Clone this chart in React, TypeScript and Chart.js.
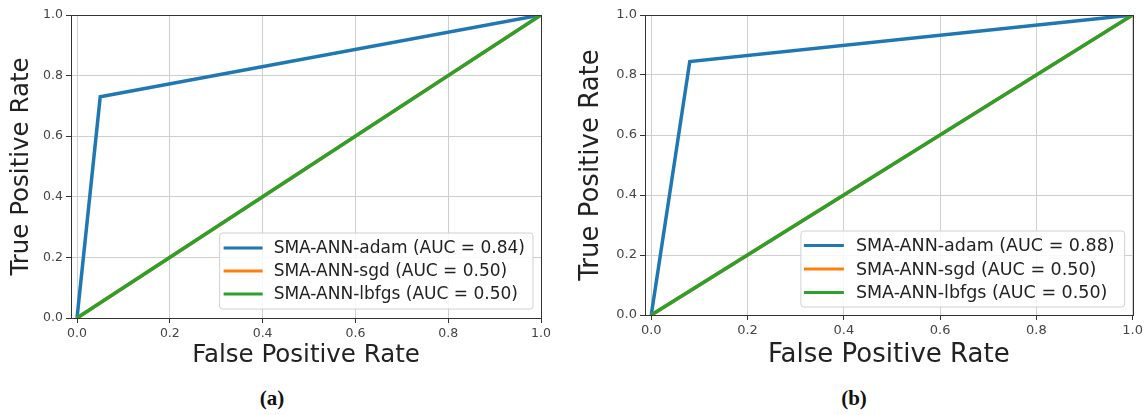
import React, { useEffect, useRef } from "react";
import { Chart, registerables } from "chart.js";

Chart.register(...registerables);

// ---------- data ----------
const TICKS = [0, 0.2, 0.4, 0.6, 0.8, 1.0];
const SERIES_NAMES = ["SMA-ANN-adam", "SMA-ANN-sgd", "SMA-ANN-lbfgs"];
const COLORS = ["#1f77b4", "#ff7f0e", "#2ca02c"];
const X_TITLE = "False Positive Rate";
const Y_TITLE = "True Positive Rate";

// panel (a)
const A_ADAM_FPR = [0, 0.05, 1];
const A_ADAM_TPR = [0, 0.73, 1];
const A_SGD_FPR = [0, 1];
const A_SGD_TPR = [0, 1];
const A_LBFGS_FPR = [0, 1];
const A_LBFGS_TPR = [0, 1];
const A_AUC = ["0.84", "0.50", "0.50"];

// panel (b)
const B_ADAM_FPR = [0, 0.08, 1];
const B_ADAM_TPR = [0, 0.845, 1];
const B_SGD_FPR = [0, 1];
const B_SGD_TPR = [0, 1];
const B_LBFGS_FPR = [0, 1];
const B_LBFGS_TPR = [0, 1];
const B_AUC = ["0.88", "0.50", "0.50"];

const FONT = '"DejaVu Sans", sans-serif';

const zip = (xs: number[], ys: number[]) => xs.map((x, i) => ({ x, y: ys[i] }));

const rocPlugin = {
  id: "rocLegend",
  afterDatasetsDraw(chart: any) {
    const { ctx, chartArea } = chart;
    ctx.save();
    ctx.strokeStyle = "#333333";
    ctx.lineWidth = 1;
    ctx.strokeRect(
      Math.round(chartArea.left) + 0.5,
      Math.round(chartArea.top) + 0.5,
      Math.round(chartArea.right - chartArea.left),
      Math.round(chartArea.bottom - chartArea.top)
    );
    ctx.restore();
  },
  afterDraw(chart: any, _args: any, opts: any) {
    const { ctx, chartArea } = chart;
    const ds = chart.data.datasets;
    ctx.save();
    ctx.font = `${opts.fontSize}px ${FONT}`;
    const labels: string[] = ds.map((d: any) => d.label);
    const tw = Math.max(...labels.map((l) => ctx.measureText(l).width));
    const w = opts.padL + opts.sample + opts.gap + tw + opts.padR;
    const h = opts.padV * 2 + opts.rowH * (labels.length - 1);
    const x = chartArea.right - opts.marginR - w;
    const y = chartArea.bottom - opts.marginB - h;
    ctx.beginPath();
    const r = 3;
    ctx.moveTo(x + r, y);
    ctx.arcTo(x + w, y, x + w, y + h, r);
    ctx.arcTo(x + w, y + h, x, y + h, r);
    ctx.arcTo(x, y + h, x, y, r);
    ctx.arcTo(x, y, x + w, y, r);
    ctx.closePath();
    ctx.fillStyle = "rgba(255,255,255,0.85)";
    ctx.fill();
    ctx.strokeStyle = "#d0d0d0";
    ctx.lineWidth = 1;
    ctx.stroke();
    labels.forEach((l, i) => {
      const cy = y + opts.padV + i * opts.rowH;
      ctx.beginPath();
      ctx.strokeStyle = ds[i].borderColor;
      ctx.lineWidth = 3;
      ctx.moveTo(x + opts.padL, cy);
      ctx.lineTo(x + opts.padL + opts.sample, cy);
      ctx.stroke();
      ctx.fillStyle = "#222222";
      ctx.textBaseline = "middle";
      ctx.textAlign = "left";
      ctx.fillText(l, x + opts.padL + opts.sample + opts.gap, cy + 1);
    });
    ctx.restore();
  },
};

type PanelCfg = {
  left: number;
  width: number;
  height: number;
  padding: { left: number; right: number; top: number; bottom: number };
  yWidth: number;
  xHeight: number;
  titleSize: number;
  tickSize: number;
  titlePadX: number;
  legend: any;
  series: { fpr: number[]; tpr: number[] }[];
  auc: string[];
};

function RocPanel({ cfg }: { cfg: PanelCfg }) {
  const ref = useRef<HTMLCanvasElement>(null);
  useEffect(() => {
    if (!ref.current) return;
    const orders = [3, 2, 1];
    const chart = new Chart(ref.current, {
      type: "line",
      data: {
        datasets: cfg.series.map((s, i) => ({
          label: `${SERIES_NAMES[i]} (AUC = ${cfg.auc[i]})`,
          data: zip(s.fpr, s.tpr),
          borderColor: COLORS[i],
          backgroundColor: COLORS[i],
          borderWidth: 3.5,
          pointRadius: 0,
          tension: 0,
          fill: false,
          order: orders[i],
        })),
      },
      options: {
        responsive: false,
        animation: false,
        layout: { padding: cfg.padding },
        plugins: {
          legend: { display: false },
          tooltip: { enabled: false },
          rocLegend: cfg.legend,
        } as any,
        scales: {
          x: {
            type: "linear",
            min: -0.013,
            max: 1.0,
            afterBuildTicks: (s: any) => {
              s.ticks = TICKS.map((v) => ({ value: v }));
            },
            afterFit: (s: any) => {
              s.height = cfg.xHeight;
            },
            ticks: {
              callback: (v: any) => Number(v).toFixed(1),
              font: { family: FONT, size: cfg.tickSize },
              color: "#444444",
              padding: 3,
              maxRotation: 0,
            },
            grid: { color: "#cfcfcf", tickColor: "#333333", tickLength: 5, lineWidth: 1 },
            border: { color: "#333333", width: 1 },
            title: {
              display: true,
              text: X_TITLE,
              font: { family: FONT, size: cfg.titleSize },
              color: "#222222",
              padding: { top: 0, bottom: cfg.titlePadX },
            },
          },
          y: {
            type: "linear",
            min: 0,
            max: 1.0,
            afterBuildTicks: (s: any) => {
              s.ticks = TICKS.map((v) => ({ value: v }));
            },
            afterFit: (s: any) => {
              s.width = cfg.yWidth;
            },
            ticks: {
              callback: (v: any) => Number(v).toFixed(1),
              font: { family: FONT, size: cfg.tickSize },
              color: "#444444",
              padding: 3,
            },
            grid: { color: "#cfcfcf", tickColor: "#333333", tickLength: 5, lineWidth: 1 },
            border: { color: "#333333", width: 1 },
            title: {
              display: true,
              text: Y_TITLE,
              font: { family: FONT, size: cfg.titleSize },
              color: "#222222",
              padding: { top: 0, bottom: 0 },
            },
          },
        },
      } as any,
      plugins: [rocPlugin as any],
    });
    return () => chart.destroy();
  }, [cfg]);
  return (
    <canvas
      ref={ref}
      width={cfg.width}
      height={cfg.height}
      style={{ position: "absolute", left: cfg.left, top: 0, width: cfg.width, height: cfg.height }}
    />
  );
}

const PANEL_A: PanelCfg = {
  left: 0,
  width: 560,
  height: 375,
  padding: { left: 7, right: 19, top: 15, bottom: 0 },
  yWidth: 64,
  xHeight: 57,
  titleSize: 24.5,
  tickSize: 12.5,
  titlePadX: 5,
  legend: { fontSize: 17, padL: 4, sample: 39, gap: 11, padR: 8, marginR: 8, marginB: 9, padV: 15, rowH: 23 },
  series: [
    { fpr: A_ADAM_FPR, tpr: A_ADAM_TPR },
    { fpr: A_SGD_FPR, tpr: A_SGD_TPR },
    { fpr: A_LBFGS_FPR, tpr: A_LBFGS_TPR },
  ],
  auc: A_AUC,
};

const PANEL_B: PanelCfg = {
  left: 570,
  width: 576,
  height: 375,
  padding: { left: 6, right: 13, top: 15, bottom: 0 },
  yWidth: 69,
  xHeight: 60,
  titleSize: 26,
  tickSize: 13,
  titlePadX: 4,
  legend: { fontSize: 17.5, padL: 3, sample: 40, gap: 12, padR: 10, marginR: 8, marginB: 8, padV: 14.5, rowH: 23.5 },
  series: [
    { fpr: B_ADAM_FPR, tpr: B_ADAM_TPR },
    { fpr: B_SGD_FPR, tpr: B_SGD_TPR },
    { fpr: B_LBFGS_FPR, tpr: B_LBFGS_TPR },
  ],
  auc: B_AUC,
};

const captionStyle = (cx: number): React.CSSProperties => ({
  position: "absolute",
  left: cx,
  top: 398,
  transform: "translate(-50%, -50%)",
  fontFamily: '"Liberation Serif", "Times New Roman", serif',
  fontWeight: "bold",
  fontSize: 21,
  color: "#111",
  lineHeight: 1,
  whiteSpace: "nowrap",
});

export default function App() {
  return (
    <div style={{ position: "absolute", left: 0, top: 0, width: 1146, height: 415, background: "#fff" }}>
      <RocPanel cfg={PANEL_A} />
      <RocPanel cfg={PANEL_B} />
      <div style={captionStyle(272)}>(a)</div>
      <div style={captionStyle(854)}>(b)</div>
    </div>
  );
}
